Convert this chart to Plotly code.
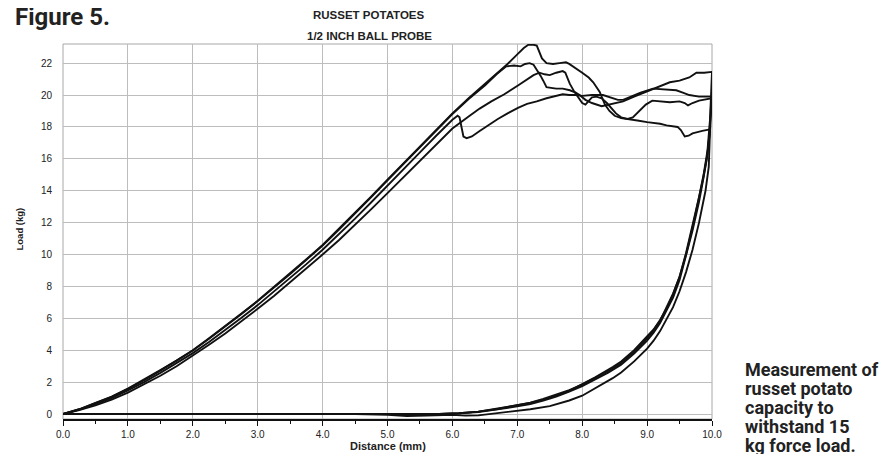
import plotly.graph_objects as go

# ---------------- data ----------------
# Sample A (highest peak, ends lowest)
a_load_x = [0.0, 0.25, 0.5, 0.75, 1.0, 1.25, 1.5, 1.75, 2.0, 2.25, 2.5, 2.75, 3.0, 3.25, 3.5, 3.75,
            4.0, 4.25, 4.5, 4.75, 5.0, 5.25, 5.5, 5.75, 6.0, 6.25, 6.5, 6.7, 6.85, 7.0, 7.1, 7.17,
            7.25, 7.3, 7.33, 7.38, 7.45, 7.55, 7.65, 7.75, 7.8, 7.86, 8.0, 8.1, 8.17, 8.27, 8.35,
            8.42, 8.5, 8.6, 8.7, 8.85, 9.0, 9.2, 9.3, 9.47, 9.52, 9.58, 9.64, 9.7, 9.85, 9.97]
a_load_y = [0.0, 0.3, 0.7, 1.1, 1.6, 2.15, 2.75, 3.35, 4.0, 4.75, 5.5, 6.3, 7.1, 7.95, 8.8, 9.7,
            10.6, 11.6, 12.6, 13.65, 14.7, 15.75, 16.8, 17.8, 18.85, 19.8, 20.7, 21.4, 21.95, 22.55, 22.95, 23.15,
            23.15, 23.1, 22.8, 22.3, 22.0, 21.95, 22.0, 22.05, 21.95, 21.8, 21.4, 21.1, 20.8, 20.2, 19.4,
            19.0, 18.7, 18.55, 18.5, 18.4, 18.3, 18.2, 18.1, 18.0, 17.8, 17.4, 17.45, 17.6, 17.75, 17.85]
a_unload_x = [9.97, 9.95, 9.9, 9.8, 9.7, 9.6, 9.5, 9.4, 9.3, 9.2, 9.1, 9.0, 8.8, 8.6, 8.47, 8.2, 8.0,
              7.8, 7.5, 7.2, 7.0, 6.7, 6.4, 6.2, 6.0, 5.6, 5.3, 5.0, 4.5, 0.0]
a_unload_y = [17.85, 15.5, 14.0, 12.0, 10.3, 8.9, 7.7, 6.7, 5.9, 5.2, 4.6, 4.1, 3.3, 2.6, 2.25, 1.6, 1.15,
              0.85, 0.5, 0.3, 0.2, 0.05, -0.08, -0.1, -0.05, -0.1, -0.12, -0.05, 0.0, 0.0]

# Sample B (peak ~22, ends highest)
b_load_x = [0.0, 0.25, 0.5, 0.75, 1.0, 1.25, 1.5, 1.75, 2.0, 2.25, 2.5, 2.75, 3.0, 3.25, 3.5, 3.75,
            4.0, 4.25, 4.5, 4.75, 5.0, 5.25, 5.5, 5.75, 6.0, 6.25, 6.5, 6.68, 6.83, 6.95, 7.05, 7.12,
            7.19, 7.25, 7.3, 7.36, 7.4, 7.45, 7.52, 7.6, 7.7, 7.81, 7.9, 7.96, 8.05, 8.15, 8.3, 8.45,
            8.63, 8.8, 8.99, 9.15, 9.35, 9.5, 9.65, 9.76, 9.88, 10.0]
b_load_y = [0.0, 0.3, 0.68, 1.08, 1.58, 2.12, 2.72, 3.33, 3.98, 4.72, 5.48, 6.27, 7.08, 7.92, 8.78, 9.67,
            10.57, 11.55, 12.55, 13.6, 14.65, 15.7, 16.75, 17.75, 18.8, 19.75, 20.6, 21.3, 21.8, 21.85, 21.8, 21.95,
            22.0, 21.9, 21.6, 21.2, 20.9, 20.5, 20.45, 20.4, 20.4, 20.3, 20.15, 20.0, 19.7, 19.5, 19.3, 19.45,
            19.6, 19.9, 20.2, 20.45, 20.8, 20.9, 21.1, 21.4, 21.4, 21.45]
b_unload_x = [10.0, 9.97, 9.93, 9.87, 9.8, 9.7, 9.6, 9.5, 9.4, 9.3, 9.2, 9.1, 9.0, 8.8, 8.6, 8.47, 8.2,
              8.0, 7.8, 7.6, 7.4, 7.2, 7.0, 6.7, 6.4, 6.1, 5.8, 5.0, 0.0]
b_unload_y = [21.45, 18.5, 16.5, 15.0, 13.6, 11.8, 10.1, 8.6, 7.5, 6.6, 5.9, 5.3, 4.85, 4.0, 3.3, 2.95, 2.3,
              1.85, 1.45, 1.15, 0.9, 0.7, 0.55, 0.35, 0.15, 0.05, 0.0, 0.0, 0.0]

# Sample C (lags, peak ~21.5 at 7.7)
c_load_x = [0.0, 0.25, 0.5, 0.75, 1.0, 1.25, 1.5, 1.75, 2.0, 2.25, 2.5, 2.75, 3.0, 3.25, 3.5, 3.75,
            4.0, 4.25, 4.5, 4.75, 5.0, 5.25, 5.5, 5.65, 5.75, 6.0, 6.25, 6.42, 6.6, 6.8, 7.01, 7.15,
            7.25, 7.34, 7.42, 7.5, 7.6, 7.7, 7.74, 7.78, 7.81, 7.88, 7.96, 8.0, 8.05, 8.1, 8.15, 8.22,
            8.3, 8.38, 8.45, 8.52, 8.6, 8.7, 8.78, 8.88, 8.98, 9.08, 9.2, 9.35, 9.5, 9.58, 9.63, 9.7,
            9.8, 9.9, 9.99]
c_load_y = [0.0, 0.25, 0.55, 0.9, 1.35, 1.85, 2.4, 3.0, 3.65, 4.35, 5.05, 5.8, 6.6, 7.4, 8.25, 9.1,
            10.0, 10.9, 11.85, 12.85, 13.85, 14.85, 15.9, 16.5, 16.9, 17.9, 18.65, 19.15, 19.6, 20.05, 20.6, 21.0,
            21.25, 21.4, 21.3, 21.25, 21.4, 21.5, 21.4, 21.0, 20.7, 20.2, 19.7, 19.5, 19.4, 19.6, 19.85, 19.9,
            19.8, 19.5, 19.2, 18.85, 18.6, 18.5, 18.6, 19.0, 19.4, 19.65, 19.6, 19.55, 19.6, 19.5, 19.35, 19.5,
            19.65, 19.75, 19.8]
c_unload_x = [9.99, 9.96, 9.92, 9.86, 9.8, 9.7, 9.6, 9.5, 9.4, 9.3, 9.2, 9.1, 9.0, 8.8, 8.6, 8.4, 8.2,
              8.0, 7.8, 7.6, 7.4, 7.2, 7.0, 6.7, 6.4, 6.1, 5.8, 0.0]
c_unload_y = [19.8, 17.5, 16.0, 14.6, 13.3, 11.5, 9.9, 8.4, 7.3, 6.45, 5.7, 5.1, 4.6, 3.8, 3.1, 2.6, 2.15,
              1.75, 1.4, 1.1, 0.85, 0.62, 0.48, 0.3, 0.12, 0.04, 0.0, 0.0]

# Sample D (sudden drop at ~6.1 mm)
d_load_x = [0.0, 0.25, 0.5, 0.75, 1.0, 1.25, 1.5, 1.75, 2.0, 2.25, 2.5, 2.75, 3.0, 3.25, 3.5, 3.75,
            4.0, 4.25, 4.5, 4.75, 5.0, 5.25, 5.5, 5.75, 6.0, 6.08, 6.11, 6.14, 6.17, 6.22, 6.3, 6.42,
            6.55, 6.7, 6.85, 7.01, 7.15, 7.3, 7.45, 7.6, 7.7, 7.8, 7.9, 8.0, 8.15, 8.32, 8.45, 8.55,
            8.63, 8.75, 8.9, 9.09, 9.25, 9.45, 9.55, 9.65, 9.8, 9.96, 10.0]
d_load_y = [0.0, 0.28, 0.62, 1.0, 1.48, 2.0, 2.58, 3.18, 3.82, 4.52, 5.25, 6.03, 6.83, 7.67, 8.52, 9.4,
            10.3, 11.25, 12.25, 13.28, 14.3, 15.35, 16.4, 17.45, 18.45, 18.7, 18.6, 18.0, 17.4, 17.3, 17.4, 17.75,
            18.1, 18.5, 18.85, 19.2, 19.45, 19.6, 19.8, 19.95, 20.05, 20.0, 20.0, 19.95, 20.0, 20.0, 19.85, 19.7,
            19.7, 19.9, 20.15, 20.4, 20.35, 20.3, 20.15, 20.0, 19.9, 19.9, 19.9]
d_unload_x = [10.0, 9.97, 9.93, 9.87, 9.8, 9.7, 9.6, 9.5, 9.4, 9.3, 9.2, 9.1, 9.0, 8.8, 8.6, 8.4, 8.2,
              8.0, 7.8, 7.6, 7.4, 7.2, 7.0, 6.7, 6.4, 6.1, 5.8, 0.0]
d_unload_y = [19.9, 17.8, 16.3, 14.9, 13.5, 11.7, 10.0, 8.6, 7.55, 6.65, 5.85, 5.25, 4.75, 3.9, 3.2, 2.7, 2.25,
              1.85, 1.5, 1.2, 0.95, 0.72, 0.55, 0.32, 0.15, 0.05, 0.0, 0.0]

x_ticks = [0, 1, 2, 3, 4, 5, 6, 7, 8, 9, 10]
y_ticks = [0, 2, 4, 6, 8, 10, 12, 14, 16, 18, 20, 22]

title_lines = ["RUSSET POTATOES", "1/2 INCH BALL PROBE"]
side_lines = ["Measurement of", "russet potato", "capacity to", "withstand 15", "kg force load."]

# ---------------- geometry ----------------
# the page body has an 8px margin, so the figure is sized to fill the window from there
OFF = 8
W, H = 887 - OFF, 454 - OFF
P_LEFT, P_RIGHT, P_TOP, P_BOTTOM = 63, 712, 44, 419      # plot box in window pixels
ML, MT = P_LEFT - OFF, P_TOP - OFF
MR, MB = W - (P_RIGHT - OFF), H - (P_BOTTOM - OFF)
PW, PH = P_RIGHT - P_LEFT, P_BOTTOM - P_TOP


def px(xp):
    return (xp - P_LEFT) / PW


def py(yp):
    return (P_BOTTOM - yp) / PH


fig = go.Figure()
series = [(a_load_x + a_unload_x, a_load_y + a_unload_y),
          (b_load_x + b_unload_x, b_load_y + b_unload_y),
          (c_load_x + c_unload_x, c_load_y + c_unload_y),
          (d_load_x + d_unload_x, d_load_y + d_unload_y)]
for xs, ys in series:
    fig.add_trace(go.Scatter(x=xs, y=ys, mode="lines", line=dict(color="#111111", width=1.9),
                             showlegend=False, hoverinfo="skip"))

SANS = "Liberation Sans, Arial, Helvetica, sans-serif"
HEAD = "Roboto, Liberation Sans, Arial, sans-serif"

fig.update_layout(
    width=W, height=H,
    margin=dict(l=ML, r=MR, t=MT, b=MB, pad=0),
    paper_bgcolor="white", plot_bgcolor="white",
    showlegend=False,
    xaxis=dict(range=[0, 10], tickvals=x_ticks, tickformat=".1f",
               showgrid=True, gridcolor="#bdbdbd", gridwidth=1, zeroline=False,
               showline=True, linecolor="#111111", linewidth=2,
               ticks="outside", ticklen=5, tickwidth=1, tickcolor="#111111",
               minor=dict(dtick=0.5, ticks="outside", ticklen=3, tickcolor="#111111", showgrid=False),
               tickfont=dict(family=SANS, size=10, color="#222222")),
    yaxis=dict(range=[-0.31, 23.2], tickvals=y_ticks,
               showgrid=True, gridcolor="#bdbdbd", gridwidth=1, zeroline=False,
               showline=False, ticks="", ticklabelstandoff=10,
               tickfont=dict(family=SANS, size=10, color="#222222")),
)

fig.add_shape(type="rect", xref="paper", yref="paper", x0=0, x1=1, y0=0, y1=1,
              line=dict(color="#a8a8a8", width=1), layer="below")

ann = []
ann.append(dict(text="<b>Figure 5.</b>", x=px(13), y=py(16.5), xanchor="left", yanchor="middle",
                font=dict(family=HEAD, size=24, color="#222222")))
for i, t in enumerate(title_lines):
    ann.append(dict(text="<b>" + t + "</b>", x=px(369), y=py(15.5 + 20 * i), xanchor="center",
                    yanchor="middle", font=dict(family=SANS, size=11.5, color="#222222")))
ann.append(dict(text="<b>Load (kg)</b>", x=px(19), y=py(229.5), xanchor="center", yanchor="middle",
                textangle=-90, font=dict(family=SANS, size=9.5, color="#222222")))
ann.append(dict(text="<b>Distance (mm)</b>", x=px(388), y=py(446), xanchor="center", yanchor="middle",
                font=dict(family=SANS, size=11, color="#222222")))
for i, t in enumerate(side_lines):
    ann.append(dict(text="<b>" + t + "</b>", x=px(743), y=py(369.5 + 19.1 * i), xanchor="left",
                    yanchor="middle", font=dict(family=HEAD, size=18, color="#222222")))
for a in ann:
    a.update(xref="paper", yref="paper", showarrow=False)
fig.update_layout(annotations=ann)

fig.write_html("out.html")
